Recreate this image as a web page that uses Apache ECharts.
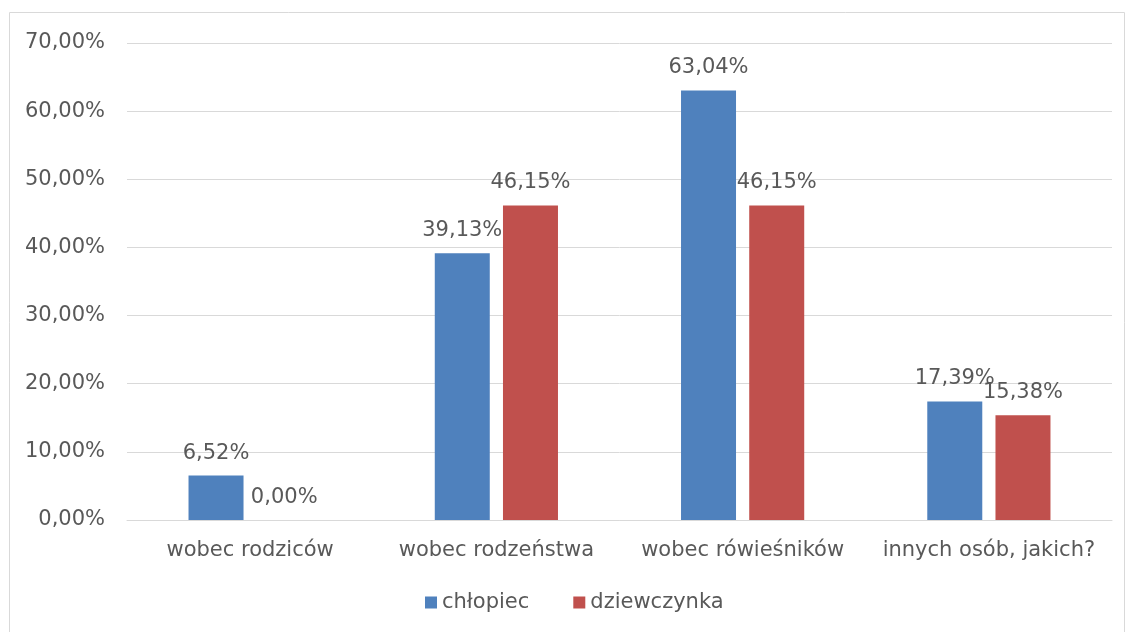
<!DOCTYPE html>
<html><head><meta charset="utf-8">
<script src="https://cdn.jsdelivr.net/npm/echarts@6/dist/echarts.min.js"></script>
<style>html,body{margin:0;padding:0;background:#fff}#c{width:1127px;height:632px}</style>
</head><body><div id="c"></div>
<script>
const categories = ['wobec rodziców', 'wobec rodzeństwa', 'wobec rówieśników', 'innych osób, jakich?'];
const seriesNames = ['chłopiec', 'dziewczynka'];
const boys = [6.52, 39.13, 63.04, 17.39];
const girls = [0.00, 46.15, 46.15, 15.38];
const yTicks = [0, 10, 20, 30, 40, 50, 60, 70];

const FONT = 'DejaVu Sans';
const TXT = '#595959';
const fmt = v => v.toFixed(2).replace('.', ',') + '%';

const chart = echarts.init(document.getElementById('c'));
chart.setOption({
  animation: false,
  textStyle: { fontFamily: FONT },
  graphic: [{ type: 'rect', shape: { x: 9.5, y: 12.5, width: 1115, height: 640 }, style: { fill: 'none', stroke: '#D9D9D9', lineWidth: 1 } }],
  grid: { left: 127, right: 15, top: 43, bottom: 112 },
  legend: {
    data: seriesNames, bottom: 14, left: 420, itemWidth: 12, itemHeight: 12, itemGap: 44,
    icon: 'rect', textStyle: { fontFamily: FONT, fontSize: 21, color: TXT }
  },
  xAxis: {
    type: 'category', data: categories,
    axisLine: { lineStyle: { color: '#D9D9D9' } }, axisTick: { show: false },
    axisLabel: { interval: 0, color: TXT, fontSize: 21, fontFamily: FONT, margin: 20 }
  },
  yAxis: {
    type: 'value', min: yTicks[0], max: yTicks[yTicks.length - 1], interval: 10,
    axisLabel: { color: TXT, fontSize: 21, fontFamily: FONT, margin: 22, formatter: v => fmt(v) },
    splitLine: { lineStyle: { color: '#D9D9D9' } }, axisLine: { show: false }, axisTick: { show: false }
  },
  series: [
    { name: seriesNames[0], type: 'bar', data: boys, barWidth: 55, barGap: '24%',
      itemStyle: { color: '#4F81BD' },
      label: { show: true, position: 'top', distance: 12, color: TXT, fontSize: 21, fontFamily: FONT, formatter: p => fmt(p.value) } },
    { name: seriesNames[1], type: 'bar', data: girls, barWidth: 55,
      itemStyle: { color: '#C0504D' },
      label: { show: true, position: 'top', distance: 12, color: TXT, fontSize: 21, fontFamily: FONT, formatter: p => fmt(p.value) } }
  ]
});
</script></body></html>
